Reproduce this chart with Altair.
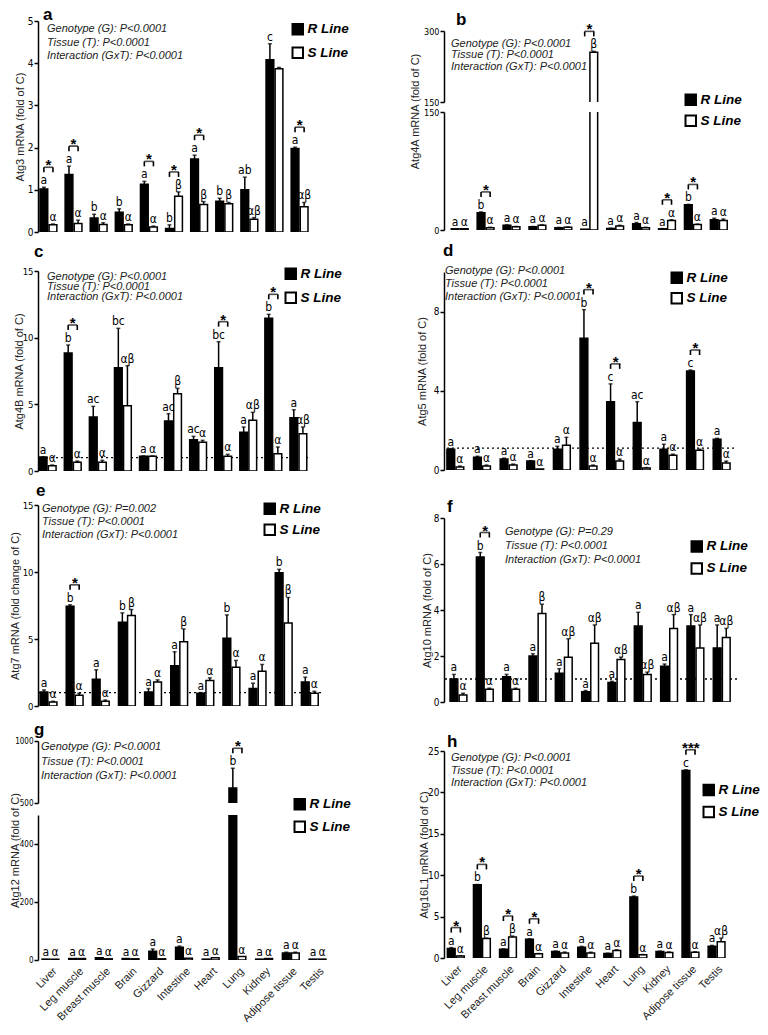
import altair as alt
import pandas as pd

TISSUES = ["Liver", "Leg muscle", "Breast muscle", "Brain", "Gizzard", "Intestine",
           "Heart", "Lung", "Kidney", "Adipose tissue", "Testis"]
LINES = ["R Line", "S Line"]

STATS_SIG = ["Genotype (G): P<0.0001", "Tissue (T): P<0.0001", "Interaction (GxT): P<0.0001"]
STATS_E = ["Genotype (G): P=0.002", "Tissue (T): P<0.0001", "Interaction (GxT): P<0.0001"]
STATS_F = ["Genotype (G): P=0.29", "Tissue (T): P<0.0001", "Interaction (GxT): P<0.0001"]

# ---- a: Atg3
A_R = [1.02, 1.36, 0.33, 0.47, 1.13, 0.08, 1.73, 0.73, 1.00, 4.08, 1.98]
A_RE = [0.04, 0.20, 0.09, 0.08, 0.07, 0.09, 0.09, 0.07, 0.30, 0.38, 0.03]
A_S = [0.17, 0.20, 0.18, 0.17, 0.12, 0.85, 0.65, 0.67, 0.30, 3.87, 0.60]
A_SE = [0.02, 0.08, 0.04, 0.02, 0.02, 0.10, 0.07, 0.03, 0.04, 0.03, 0.10]
A_RL = ["a", "a", "b", "b", "a", "b", "a", "b", "ab", "c", "a"]
A_SL = ["α", "α", "α", "α", "α", "β", "β", "β", "αβ", "", "αβ"]
A_ST = ["Liver", "Leg muscle", "Gizzard", "Intestine", "Heart", "Testis"]
A_SS = ["*", "*", "*", "*", "*", "*"]

# ---- b: Atg4A
B_R = [1.5, 22, 6, 4, 3, 1, 2, 8, 1.5, 32, 13]
B_RE = [0, 1, 0.5, 0.5, 0.3, 0, 0.3, 1.5, 0.3, 0.5, 2]
B_S = [1.5, 3, 4, 6, 3.5, 255, 5, 3, 12, 7, 12]
B_SE = [0, 0.5, 0.5, 0.5, 0.3, 2, 1, 0.5, 1, 0.5, 2]
B_RL = ["a", "b", "a", "a", "a", "a", "a", "a", "a", "b", "a"]
B_SL = ["α", "α", "α", "α", "α", "β", "α", "α", "α", "α", "α"]
B_ST = ["Leg muscle", "Intestine", "Kidney", "Adipose tissue"]
B_SS = ["*", "*", "*", "*"]

# ---- c: Atg4B
C_R = [1.05, 8.85, 4.05, 7.75, 1.1, 3.75, 2.35, 7.75, 2.9, 11.45, 4.0]
C_RE = [0.02, 0.6, 0.8, 2.95, 0.03, 0.55, 0.25, 1.95, 0.4, 0.3, 0.6]
C_S = [0.4, 0.65, 0.65, 4.9, 1.1, 5.8, 2.15, 1.1, 3.8, 1.3, 2.8]
C_SE = [0.05, 0.1, 0.15, 3.0, 0.03, 0.4, 0.15, 0.15, 0.6, 0.5, 0.5]
C_RL = ["a", "b", "ac", "bc", "a", "ac", "ac", "bc", "a", "b", "a"]
C_SL = ["α", "α", "α", "αβ", "α", "β", "α", "α", "αβ", "α", "αβ"]
C_ST = ["Leg muscle", "Lung", "Adipose tissue"]
C_SS = ["*", "*", "*"]

# ---- d: Atg5
D_R = [1.05, 0.65, 0.55, 0.45, 1.05, 6.65, 3.45, 2.4, 1.05, 5.0, 1.55]
D_RE = [0.03, 0.05, 0.05, 0.02, 0.15, 1.45, 0.9, 1.05, 0.25, 0.05, 0.05]
D_S = [0.15, 0.2, 0.25, 0.05, 1.25, 0.2, 0.45, 0.1, 0.75, 1.0, 0.35]
D_SE = [0.05, 0.05, 0.05, 0.0, 0.4, 0.05, 0.1, 0.02, 0.05, 0.05, 0.1]
D_RL = ["a", "a", "a", "a", "a", "b", "c", "ac", "a", "c", "a"]
D_SL = ["α"] * 11
D_ST = ["Intestine", "Heart", "Adipose tissue"]
D_SS = ["*", "*", "*"]

# ---- e: Atg7
E_R = [1.05, 7.45, 2.0, 6.25, 1.05, 3.0, 0.95, 5.05, 1.3, 9.95, 1.8]
E_RE = [0.15, 0.1, 0.7, 0.7, 0.25, 1.05, 0.05, 1.75, 0.4, 0.25, 0.35]
E_S = [0.3, 0.8, 0.35, 6.75, 1.8, 4.8, 1.9, 2.9, 2.6, 6.2, 0.95]
E_SE = [0.05, 0.15, 0.1, 0.45, 0.15, 0.95, 0.2, 0.5, 0.5, 1.9, 0.15]
E_RL = ["a", "b", "a", "b", "a", "a", "a", "b", "a", "b", "a"]
E_SL = ["α", "α", "α", "β", "α", "β", "α", "α", "α", "β", "α"]
E_ST = ["Leg muscle"]
E_SS = ["*"]

# ---- f: Atg10
F_R = [1.0, 6.3, 1.1, 2.0, 1.25, 0.45, 0.85, 3.3, 1.55, 3.3, 2.35]
F_RE = [0.2, 0.2, 0.1, 0.1, 0.2, 0.05, 0.05, 0.6, 0.1, 0.5, 1.0]
F_S = [0.3, 0.55, 0.55, 3.85, 1.95, 2.55, 1.85, 1.2, 3.2, 2.35, 2.8]
F_SE = [0.08, 0.05, 0.05, 0.4, 0.8, 0.8, 0.1, 0.1, 0.6, 1.0, 0.4]
F_RL = ["a", "b", "a", "a", "a", "a", "a", "a", "a", "a", "a"]
F_SL = ["α", "α", "α", "β", "αβ", "αβ", "αβ", "αβ", "αβ", "αβ", "αβ"]
F_ST = ["Leg muscle"]
F_SS = ["*"]

# ---- g: Atg12
G_R = [3, 5, 8, 5, 30, 44, 3, 620, 3, 24, 3]
G_RE = [0, 0, 0, 0, 8, 4, 0, 160, 0, 3, 0]
G_S = [3, 5, 4, 4, 4, 6, 8, 12, 5, 24, 3]
G_SE = [0, 0, 0, 0, 0, 0, 0, 0, 0, 3, 0]
G_RL = ["a", "a", "a", "a", "a", "a", "a", "b", "a", "a", "a"]
G_SL = ["α"] * 11
G_ST = ["Lung"]
G_SS = ["*"]

# ---- h: Atg16L1
H_R = [1.14, 8.84, 1.05, 2.27, 0.8, 1.3, 0.55, 7.38, 0.78, 22.65, 1.42]
H_RE = [0.12, 0.05, 0.05, 0.05, 0.05, 0.1, 0.03, 0.1, 0.05, 0.08, 0.1]
H_S = [0.25, 2.35, 2.55, 0.52, 0.6, 0.6, 0.9, 0.4, 0.65, 0.69, 1.95]
H_SE = [0.03, 0.05, 0.1, 0.02, 0.12, 0.1, 0.1, 0.02, 0.08, 0.05, 0.45]
H_RL = ["a", "b", "a", "a", "a", "a", "a", "b", "a", "c", "a"]
H_SL = ["α", "β", "β", "α", "α", "α", "α", "α", "α", "α", "αβ"]
H_ST = ["Liver", "Leg muscle", "Breast muscle", "Brain", "Lung", "Adipose tissue"]
H_SS = ["*", "*", "*", "*", "*", "***"]

FONT = "Liberation Sans, Arial, Helvetica, sans-serif"
NARROW = "Liberation Sans Narrow, Arial Narrow, DejaVu Sans Condensed, Liberation Sans, Arial, sans-serif"
PI, PIO = 0.33, 0.15


def make_df(R, Re, S, Se, RL, SL):
    rows = []
    for i, t in enumerate(TISSUES):
        rows.append({"tissue": t, "line": LINES[0], "val": R[i], "top": R[i] + Re[i], "letter": RL[i]})
        rows.append({"tissue": t, "line": LINES[1], "val": S[i], "top": S[i] + Se[i], "letter": SL[i]})
    return pd.DataFrame(rows)


def view(df, star_t, star_s, lo, hi, ticks, W, H, po, lab_size, letter=None, ytitle=None,
         title_x=None, title_y=None, stats=None, legend=None, ref=None, xlabels=False):
    step = W / (11 - PI + 2 * po)
    band = step * (1 - PI)
    sub = band / (2 - PIO)
    if xlabels:
        xax = alt.Axis(title=None, labelAngle=-45, domain=False, ticks=False, labelFontSize=11,
                       labelPadding=5, labelColor="#222", labelFont=FONT)
    else:
        xax = None
    X = alt.X("tissue:N", scale=alt.Scale(domain=TISSUES, paddingInner=PI, paddingOuter=po), axis=xax)
    XO = alt.XOffset("line:N", scale=alt.Scale(domain=LINES, paddingInner=PIO, paddingOuter=0))
    axkw = dict(values=ticks, labelFontSize=lab_size, format="d")
    if ytitle:
        axkw["title"] = ytitle
        axkw["titleX"] = title_x
        if title_y is not None:
            axkw["titleY"] = title_y
    else:
        axkw["title"] = None
    Y = alt.Y("val:Q", scale=alt.Scale(domain=[lo, hi], nice=False, zero=False), axis=alt.Axis(**axkw))
    if legend:
        lx, ly, rp = legend
        leg = alt.Legend(title=None, orient="none", legendX=lx, legendY=ly, symbolType="square",
                         symbolSize=110, symbolStrokeColor="black", symbolStrokeWidth=2,
                         labelFont=FONT, labelFontSize=13.5, labelFontStyle="italic",
                         labelFontWeight="bold", labelColor="black", labelOffset=3,
                         rowPadding=rp, padding=0)
    else:
        leg = None
    fill = alt.Fill("line:N", scale=alt.Scale(domain=LINES, range=["black", "white"]), legend=leg)

    layers = []
    if ref is not None:
        layers.append(alt.Chart(pd.DataFrame({"r": [ref]})).mark_rule(
            color="black", strokeDash=[2, 3], strokeWidth=1.3).encode(y=alt.Y("r:Q")))
    layers.append(alt.Chart(df).mark_bar(stroke="black", strokeWidth=1.5, clip=True).encode(
        x=X, xOffset=XO, y=Y, y2=alt.datum(0), fill=fill))
    dfe = df[(df["top"] > df["val"] + 1e-9) & (df["val"] < hi) & (df["top"] > lo)]
    layers.append(alt.Chart(dfe).mark_rule(color="black", strokeWidth=1.5, clip=True).encode(
        x=X, xOffset=XO, y="val:Q", y2="top:Q"))
    dfc = dfe[(dfe["top"] >= lo) & (dfe["top"] <= hi)]
    layers.append(alt.Chart(dfc).mark_tick(color="black", size=4, thickness=1.5).encode(
        x=X, xOffset=XO, y="top:Q"))
    dfl = df[(df["letter"] != "") & (df["top"] >= lo) & (df["top"] <= hi)]
    layers.append(alt.Chart(dfl).mark_text(font=NARROW, fontSize=12, baseline="alphabetic", dy=-3,
                                           color="black").encode(
        x=X, xOffset=XO, y="top:Q", text="letter:N"))
    mids, ends = [], []
    for t, s in zip(star_t, star_s):
        tp = float(df[df["tissue"] == t]["top"].max())
        if lo <= tp <= hi:
            mids.append({"tissue": t, "top": tp, "star": s})
            ends += [{"tissue": t, "line": l, "top": tp} for l in LINES]
    if mids:
        dm = pd.DataFrame(mids)
        de = pd.DataFrame(ends)
        layers.append(alt.Chart(dm).mark_tick(color="black", size=sub, thickness=1.6, yOffset=-20).encode(
            x=X, y="top:Q"))
        layers.append(alt.Chart(de).mark_rule(color="black", strokeWidth=1.6, yOffset=-20, y2Offset=-15).encode(
            x=X, xOffset=XO, y="top:Q", y2="top:Q"))
        layers.append(alt.Chart(dm).mark_text(font=FONT, fontSize=15, fontWeight="bold", baseline="alphabetic",
                                              yOffset=-17, color="black").encode(
            x=X, y="top:Q", text="star:N"))
    if stats:
        lines, sx, sy, lh = stats
        for i, ln in enumerate(lines):
            layers.append(alt.Chart(pd.DataFrame({"s": [ln]})).mark_text(
                align="left", baseline="middle", font=FONT, fontStyle="italic", fontSize=11,
                color="#222").encode(x=alt.value(sx), y=alt.value(sy + i * lh), text="s:N"))
    if letter:
        ch, lx_, ly_ = letter
        layers.append(alt.Chart(pd.DataFrame({"p": [ch]})).mark_text(
            align="left", baseline="alphabetic", font=FONT, fontSize=17, fontWeight="bold",
            color="black").encode(x=alt.value(lx_), y=alt.value(ly_), text="p:N"))
    return alt.layer(*layers).properties(width=W, height=H)


def vstack(charts, gaps):
    if len(charts) == 1:
        return charts[0]
    rest = vstack(charts[1:], gaps[1:])
    return alt.vconcat(charts[0], rest, spacing=gaps[0], bounds="flush").resolve_scale(
        fill="independent").resolve_legend(fill="independent")


A = make_df(A_R, A_RE, A_S, A_SE, A_RL, A_SL)
B = make_df(B_R, B_RE, B_S, B_SE, B_RL, B_SL)
C = make_df(C_R, C_RE, C_S, C_SE, C_RL, C_SL)
D = make_df(D_R, D_RE, D_S, D_SE, D_RL, D_SL)
E = make_df(E_R, E_RE, E_S, E_SE, E_RL, E_SL)
F = make_df(F_R, F_RE, F_S, F_SE, F_RL, F_SL)
G = make_df(G_R, G_RE, G_S, G_SE, G_RL, G_SL)
Hd = make_df(H_R, H_RE, H_S, H_SE, H_RL, H_SL)

pa = view(A, A_ST, A_SS, 0, 5, [0, 1, 2, 3, 4, 5], 272, 211, 0.08, 10, letter=("a", 5, -1),
          ytitle="Atg3 mRNA (fold of C)", title_x=-13, stats=(STATS_SIG, 9, 8, 13.5),
          legend=(253, 1.5, 4.5))
pb_up = view(B, B_ST, B_SS, 150, 300, [150, 200, 250, 300], 291, 71, 0.28, 9, letter=("b", 12, -6),
             stats=(STATS_SIG, 7, 13, 11.3))
pb_lo = view(B, B_ST, B_SS, 0, 150, [0, 50, 100, 150], 291, 118, 0.28, 9,
             ytitle="Atg4A mRNA (fold of C)", title_x=-24, title_y=-1, legend=(240, -19, 2))
pc = view(C, C_ST, C_SS, 0, 15, [0, 5, 10, 15], 270, 200, 0.05, 9.5, letter=("c", -4, -14),
          ytitle="Atg4B mRNA (fold of C)", title_x=-14, stats=(STATS_SIG, 9, 6.3, 10),
          legend=(246, -4, 5), ref=1)
pdd = view(D, D_ST, D_SS, 0, 10, [0, 2, 4, 6, 8, 10], 290, 198, 0.11, 10, letter=("d", -1, -16),
           ytitle="Atg5 mRNA (fold of C)", title_x=-17, stats=(STATS_SIG, 1, -1.3, 13),
           legend=(226, -1, 1.5), ref=1.1)
pe = view(E, E_ST, E_SS, 0, 15, [0, 5, 10, 15], 283, 201, 0.08, 9.5, letter=("e", -2, -9),
          ytitle="Atg7 mRNA (fold change of C)", title_x=-18, stats=(STATS_E, 4, 4, 13),
          legend=(225, -3, 2), ref=1)
pf = view(F, F_ST, F_SS, 0, 8, [0, 2, 4, 6, 8], 293, 184, 0.23, 10, letter=("f", 3, -6),
          ytitle="Atg10 mRNA (fold of C)", title_x=-12, stats=(STATS_F, 61, 14.3, 14),
          legend=(246, 21.7, 3), ref=1)
pg_up = view(G, G_ST, G_SS, 500, 1000, [500, 600, 700, 800, 900, 1000], 293, 62, 0.15, 8,
             letter=("g", -4, -6), stats=(STATS_SIG, 3, 6.3, 14.5))
pg_lo = view(G, G_ST, G_SS, 0, 500, [0, 100, 200, 300, 400, 500], 293, 145, 0.15, 8,
             ytitle="Atg12 mRNA (fold of C)", title_x=-18, title_y=35, legend=(255, -17.5, 3.5),
             xlabels=True)
ph = view(Hd, H_ST, H_SS, 0, 25, [0, 5, 10, 15, 20, 25], 285, 207, 0.13, 10, letter=("h", 3, -4),
          ytitle="Atg16L1 mRNA (fold of C)", title_x=-15, stats=(STATS_SIG, 7, 7.3, 12.3),
          legend=(258, 32.3, 3), xlabels=True)

spacer = alt.Chart(pd.DataFrame({"k": [0]})).mark_point(opacity=0).encode(
    x=alt.value(0), y=alt.value(0)).properties(width=10, height=10)

left = vstack([pa, pc, pe, pg_up, pg_lo], [39, 34, 35, 12])
right = vstack([spacer, pb_up, pb_lo, pdd, pf, ph], [0, 10, 42, 48, 49])

chart = alt.hconcat(left, right, spacing=57, bounds="full").resolve_scale(
    fill="independent").resolve_legend(fill="independent").properties(
    padding={"left": 0, "top": -2, "right": 0, "bottom": 0}
).configure_view(stroke=None).configure_axis(
    grid=False, domainColor="black", domainWidth=1.5, tickColor="black", tickWidth=1.5, tickSize=4,
    labelColor="black", labelFont=NARROW, titleFont=FONT, titleFontSize=11, titleFontWeight="normal",
    titleColor="#222", labelPadding=1
)

chart.save("out.html", embed_options={"renderer": "svg", "actions": False})
